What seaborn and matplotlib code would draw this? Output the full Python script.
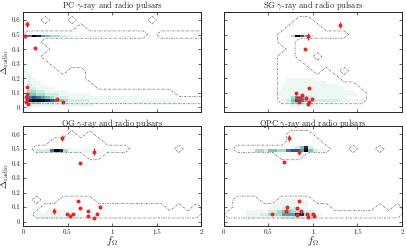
import numpy as np
import pandas as pd
import matplotlib.pyplot as plt
import seaborn as sns
from matplotlib.ticker import FormatStrFormatter

# ---------------- data ----------------
titles = ["PC", "SG", "OG", "QPC"]

# heat map cells: x bins 0.05 wide (f_Omega 0..2), y bins 0.02 high (Delta 0..0.64)
# key = y bin index, string = cell weight per x bin (0 = empty, 9 = darkest)
pc_cells = {
    0: "0111111111111111",
    1: "033322211111111111111111111111111111",
    2: "089998764322222111111111111111111111",
    3: "067654322211111111111111110",
    4: "04433222111111100",
    5: "0332211111",
    6: "0221111",
    7: "02111",
    8: "0111",
    9: "011",
    10: "11",
    11: "11",
    12: "1",
    24: "0698543322111111111111111",
}
sg_cells = {
    0: "0" * 15 + "111111",
    1: "0" * 14 + "1332" + "1111111",
    2: "0" * 13 + "1247643" + "222222" + "111111",
    3: "0" * 13 + "1135532" + "1111111",
    4: "0" * 12 + "1" * 18,
    5: "0" * 12 + "1" * 17,
    6: "0" * 13 + "1" * 14,
    7: "0" * 13 + "1" * 13,
    8: "0" * 14 + "1" * 9,
    9: "0" * 14 + "1" * 7,
    24: "0" * 14 + "1397421",
    25: "0" * 17 + "111",
}
og_cells = {
    1: "000" + "1" * 10,
    2: "000" + "1" * 10,
    3: "00000" + "1" * 6,
    24: "0002226983" + "1" * 11,
}
qpc_cells = {
    1: "0" * 5 + "11111111" + "22222" + "111",
    2: "0" * 5 + "11122333555883311",
    3: "0" * 5 + "1111122344333221",
    4: "0" * 10 + "111222211",
    5: "0" * 11 + "11111111",
    6: "0" * 12 + "1111111",
    7: "0" * 13 + "11111",
    24: "000000" + "13324433677594211",
    25: "0" * 16 + "2482",
}

# contour support maps: columns f = 0.05..2.05 step 0.1, rows Delta 0.65 (top) .. 0.0 step 0.05
pc_mask = [
    ".....................",
    "..#..#........#......",
    "......#..............",
    "##############.######",
    "##...................",
    "###..................",
    "##...................",
    "###..................",
    "####.##..............",
    "#######..............",
    "########.............",
    "#################....",
    "#####################",
    ".....................",
]
sg_mask = [
    ".....................",
    "........##...........",
    ".......####..........",
    "......########.......",
    "......##.............",
    ".......#.............",
    "......##..#..........",
    "......###............",
    "......####.#.#.......",
    "......#######........",
    "......#########......",
    "......##########.....",
    "......##########.....",
    ".....................",
]
og_mask = [
    ".....................",
    ".....#.#.............",
    "...######............",
    ".###########.....#...",
    ".......##............",
    ".....................",
    ".....................",
    ".....................",
    ".....................",
    ".....................",
    ".#..####.............",
    "..##############.#.#.",
    ".###################.",
    ".....................",
]
qpc_mask = [
    ".....................",
    ".......###...........",
    ".......####..........",
    ".###########..#..#...",
    "......###............",
    ".....................",
    ".....................",
    ".....................",
    ".....................",
    ".....................",
    ".###..####...........",
    ".###########.....#.#.",
    "####################.",
    ".....................",
]

# observed pulsars (f_Omega, Delta_radio, error on Delta)
pc_f = [0.04, 0.02, 0.14, 0.05, 0.04, 0.03, 0.05, 0.03, 0.06, 0.38, 0.45]
pc_d = [0.575, 0.49, 0.405, 0.14, 0.09, 0.07, 0.055, 0.04, 0.025, 0.057, 0.035]
pc_e = [0.02, 0.015, 0, 0, 0.01, 0.01, 0.01, 0, 0, 0, 0]

sg_f = [1.30, 0.95, 0.91, 0.96, 0.81, 0.88, 0.92, 0.85, 0.82, 0.84, 0.99, 0.96, 0.95]
sg_d = [0.565, 0.488, 0.40, 0.133, 0.096, 0.085, 0.063, 0.063, 0.063, 0.037, 0.057, 0.037, 0.026]
sg_e = [0.02, 0.025, 0, 0, 0.01, 0, 0, 0, 0, 0, 0, 0, 0]

og_f = [0.44, 0.80, 0.64, 0.62, 0.64, 0.35, 0.49, 0.56, 0.53, 0.73, 0.73, 0.83, 0.86, 0.80]
og_d = [0.573, 0.48, 0.405, 0.142, 0.094, 0.072, 0.05, 0.054, 0.039, 0.072, 0.039, 0.054, 0.10, 0.028]
og_e = [0.02, 0.025, 0, 0, 0, 0.02, 0, 0, 0, 0, 0, 0.01, 0.015, 0]

qpc_f = [0.73, 0.84, 0.67, 0.84, 0.71, 0.82, 0.70, 0.87, 0.54, 0.935, 1.0, 0.82, 0.95, 1.01]
qpc_d = [0.573, 0.48, 0.41, 0.142, 0.098, 0.093, 0.072, 0.072, 0.054, 0.054, 0.054, 0.044, 0.033, 0.039]
qpc_e = [0.02, 0.02, 0, 0, 0.01, 0, 0.015, 0, 0, 0, 0, 0, 0, 0]

panels = [
    (pc_cells, pc_mask, pc_f, pc_d, pc_e),
    (sg_cells, sg_mask, sg_f, sg_d, sg_e),
    (og_cells, og_mask, og_f, og_d, og_e),
    (qpc_cells, qpc_mask, qpc_f, qpc_d, qpc_e),
]

# ---------------- style ----------------
sns.set_style("ticks")
plt.rcParams["font.family"] = "cmr10"
plt.rcParams["mathtext.fontset"] = "cm"
plt.rcParams["axes.formatter.use_mathtext"] = True
plt.rcParams["axes.linewidth"] = 0.7

# pale mint -> teal -> slate blue -> navy -> black
cmap = sns.blend_palette(["#f2faf6", "#cdece0", "#92d2c0", "#5d9fb0",
                          "#3f6c9c", "#29366a", "#030308"], as_cmap=True)

xedges = np.linspace(0, 2, 41)
yedges = np.linspace(0, 0.64, 33)
xc = np.concatenate([[-0.05], 0.05 + 0.1 * np.arange(21), [2.15]])
yc = np.concatenate([[-0.05], 0.05 * np.arange(14), [0.7]])

fig, axes = plt.subplots(2, 2, figsize=(4.07, 2.49), dpi=100, sharex=True, sharey=True)
fig.subplots_adjust(left=23 / 407, right=402 / 407, bottom=23 / 249, top=237 / 249,
                    wspace=0.128, hspace=0.145)

for ax, name, (cells, mask, f, d, e) in zip(axes.flat, titles, panels):
    grid = np.zeros((32, 40))
    for k, row in cells.items():
        grid[k] = [int(c) for c in row.ljust(40, "0")]
    ax.pcolormesh(xedges, yedges, np.ma.masked_equal(grid, 0), cmap=cmap, vmin=0.8, vmax=9)

    m = np.array([[1.0 if c == "#" else 0.0 for c in row] for row in mask[::-1]])
    m = np.pad(m, 1)
    cs = ax.contour(xc, yc, m, levels=[0.5], colors="#666666", linewidths=0.5)
    cs.set_linestyle((0, (3, 1.5, 1, 1.5)))

    df = pd.DataFrame({"f": f, "d": d, "e": e})
    ax.errorbar(df["f"], df["d"], yerr=df["e"], fmt="none", ecolor="#ee2222", elinewidth=0.9, capsize=0)
    sns.scatterplot(data=df, x="f", y="d", ax=ax, color="#ee2222", s=8, linewidth=0, zorder=5)

    ax.set_title(name + r" $\gamma$-ray and radio pulsars", fontsize=6, pad=0.5)
    ax.set_xlim(0, 2)
    ax.set_ylim(-0.03, 0.655)
    ax.set_xticks([0, 0.5, 1, 1.5, 2])
    ax.set_yticks([0, 0.1, 0.2, 0.3, 0.4, 0.5, 0.6])
    ax.xaxis.set_major_formatter(FormatStrFormatter("%g"))
    ax.yaxis.set_major_formatter(FormatStrFormatter("%g"))
    ax.tick_params(direction="in", top=True, right=True, length=2.5, width=0.5,
                   labelsize=5, pad=2)
    ax.set_xlabel("")
    ax.set_ylabel("")

for ax in axes[:, 0]:
    ax.set_ylabel(r"$\Delta_{\rm radio}$", fontsize=7, labelpad=0.5)
for ax in axes[1, :]:
    ax.set_xlabel(r"$f_\Omega$", fontsize=7.5, labelpad=-0.5)

fig.savefig("out.png", dpi=100)
